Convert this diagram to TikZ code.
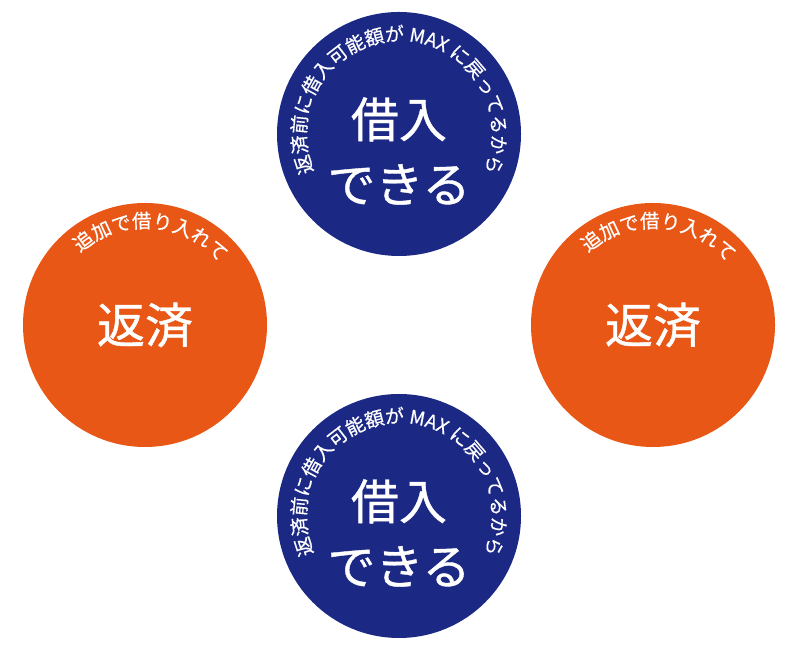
\documentclass[tikz,border=0pt]{standalone}
\usepackage{fontspec}
\newfontfamily\jpfont[FakeBold=0.8]{Noto Sans CJK JP}
\newfontfamily\jparcfont[FakeBold=0.5]{Noto Sans CJK JP}
\usepackage{tikz}
\usetikzlibrary{positioning,decorations.text}
\definecolor{loannavy}{RGB}{27,41,133}
\definecolor{payorange}{RGB}{232,87,22}
\tikzstyle{disk}=[circle
%,draw
,minimum size=244pt
,inner sep=0pt
]
\tikzstyle{borrow disk} = [disk, fill=loannavy]
\tikzstyle{repay disk} = [disk, fill=payorange, text=white
  ,font=\jpfont\fontsize{48}{65}\selectfont]
\tikzstyle{big label} = [text=white, align=center, inner sep=0pt
  ,font=\jpfont\fontsize{48}{65}\selectfont]

\begin{document}
\begin{tikzpicture}[x=1pt,y=1pt]
    \useasboundingbox (0,0) rectangle (800,650);
    % First we draw the circles
    \foreach \pos/\name in {{(399,516)/T}, {(399,134)/B}}
        \node[borrow disk] (\name) at \pos {};
    \foreach \pos/\name in {{(145,325)/L}, {(653,325)/R}}
        \node[repay disk] (\name) at \pos {返済};

    % Then the text in the blue circles
    \foreach \name in {T, B}
        \node[big label] (\name-text) at ([yshift=-17pt]\name.center) {借入\\できる};

    % Text bent along the circles
    \foreach \name in {T, B}
        \path[decorate, decoration={text along path, text align=center, text color=white,
            text={|\jparcfont\fontsize{19}{19}\selectfont|返済前に借入可能額が MAX に戻ってるから}}]
            ([shift={(230:93)}]\name.center) arc[start angle=230, end angle=-50, radius=93];
    \foreach \name in {L, R}
        \path[decorate, decoration={text along path, text align=center, text color=white,
            text={|\jparcfont\fontsize{19.5}{19.5}\selectfont|追加で借り入れて}}]
            ([shift={(146:97)}]\name.center) arc[start angle=146, end angle=26, radius=97];

\end{tikzpicture}
\end{document}
